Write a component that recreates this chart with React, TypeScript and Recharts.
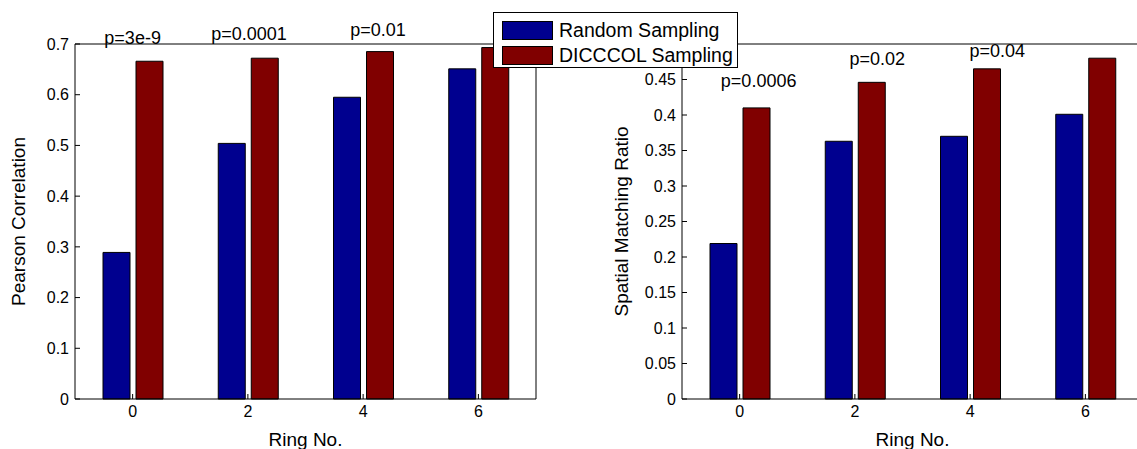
import { BarChart, Bar, XAxis, YAxis, ReferenceDot, Legend } from "recharts";

const rings = [0, 2, 4, 6];
const seriesNames = ["Random Sampling", "DICCCOL Sampling"];
const pearsonRandom = [0.289, 0.504, 0.595, 0.651];
const pearsonDicccol = [0.666, 0.672, 0.685, 0.693];
const matchRandom = [0.219, 0.363, 0.37, 0.401];
const matchDicccol = [0.41, 0.446, 0.465, 0.48];

const pearsonTicks = [0, 0.1, 0.2, 0.3, 0.4, 0.5, 0.6, 0.7];
const matchTicks = [0, 0.05, 0.1, 0.15, 0.2, 0.25, 0.3, 0.35, 0.4, 0.45];

// p-value annotations (ring position, value position, text)
const pearsonNoteText = ["p=3e-9", "p=0.0001", "p=0.01"];
const pearsonNoteX = [0, 2.02, 4.26];
const pearsonNoteY = [0.713, 0.72, 0.728];
const matchNoteText = ["p=0.0006", "p=0.02", "p=0.04"];
const matchNoteX = [0.33, 2.39, 4.47];
const matchNoteY = [0.449, 0.479, 0.49];

const pearsonData = rings.map((ring, i) => ({ ring, random: pearsonRandom[i], dicccol: pearsonDicccol[i] }));
const matchData = rings.map((ring, i) => ({ ring, random: matchRandom[i], dicccol: matchDicccol[i] }));

const FONT = '"Liberation Sans", Arial, Helvetica, sans-serif';
const BLUE = "#00008f";
const RED = "#800000";
const fmt = (v: number) => String(+v.toFixed(2));
const tickStyle = { fontSize: 16, fill: "#000", fontFamily: FONT };

function LegendBox({ payload }: any) {
  const items = [...(payload || [])].sort((a: any, b: any) => seriesNames.indexOf(a.value) - seriesNames.indexOf(b.value));
  return (
    <div style={{ background: "#fff", border: "1px solid #000", width: 245, height: 56, padding: "5px 0 0 8px", boxSizing: "border-box", fontFamily: FONT, fontSize: 19.5, color: "#000" }}>
      {items.map((p: any) => (
        <div key={p.value} style={{ display: "flex", alignItems: "center", height: 25 }}>
          <span style={{ display: "inline-block", width: 49, height: 17, background: p.color, border: "1px solid #000", marginRight: 6 }} />
          <span>{p.value}</span>
        </div>
      ))}
    </div>
  );
}

function Panel({ data, ticks, domainMax, ylabel, ylabelDx, yAxisWidth, notesText, notesX, notesY, width, right, legend }: any) {
  return (
    <BarChart width={width} height={449} data={data} margin={{ top: 43, right, left: 0, bottom: 0 }} barSize={27} barGap={6}>
      <XAxis
        xAxisId="b" dataKey="ring" type="number" domain={[-1, 7]} ticks={rings} height={50}
        tick={tickStyle} tickSize={-5} tickMargin={12} stroke="#000"
        label={{ value: "Ring No.", position: "center", dy: 15, fontSize: 19, fill: "#000", fontFamily: FONT }}
      />
      <XAxis xAxisId="t" orientation="top" dataKey="ring" type="number" domain={[-1, 7]} ticks={rings} height={1} tick={false} tickSize={-5} stroke="#000" />
      <YAxis
        yAxisId="l" domain={[0, domainMax]} ticks={ticks} width={yAxisWidth} tickFormatter={fmt}
        tick={tickStyle} tickSize={-5} tickMargin={11} stroke="#000"
        label={{ value: ylabel, angle: -90, position: "center", dx: ylabelDx, fontSize: 19, fill: "#000", fontFamily: FONT }}
      />
      <YAxis yAxisId="r" orientation="right" domain={[0, domainMax]} ticks={ticks} width={1} tick={false} tickSize={-5} stroke="#000" />
      <Bar xAxisId="b" yAxisId="l" dataKey="random" name={seriesNames[0]} fill={BLUE} stroke="#000" strokeWidth={1} isAnimationActive={false} />
      <Bar xAxisId="b" yAxisId="l" dataKey="dicccol" name={seriesNames[1]} fill={RED} stroke="#000" strokeWidth={1} isAnimationActive={false} />
      {notesText.map((t: string, i: number) => (
        <ReferenceDot
          key={t} xAxisId="b" yAxisId="l" x={notesX[i]} y={notesY[i]} r={0} ifOverflow="visible"
          label={{ value: t, position: "center", fontSize: 18, fill: "#000", fontFamily: FONT }}
        />
      ))}
      {legend && (
        <Legend
          layout="vertical" align="center" verticalAlign="middle"
          wrapperStyle={{ top: 12, left: -67, width: 245, height: 56 }}
          content={<LegendBox />}
        />
      )}
    </BarChart>
  );
}

export default function App() {
  return (
    <div style={{ position: "absolute", left: 0, top: 0, width: 1137, height: 449, overflow: "hidden", background: "#fff" }}>
      <div style={{ position: "absolute", left: 0, top: 0 }}>
        <Panel
          data={pearsonData} ticks={pearsonTicks} domainMax={0.7} ylabel="Pearson Correlation" ylabelDx={-19}
          yAxisWidth={75} notesText={pearsonNoteText} notesX={pearsonNoteX} notesY={pearsonNoteY} width={560} right={23}
        />
      </div>
      <div style={{ position: "absolute", left: 560, top: 0 }}>
        <Panel
          data={matchData} ticks={matchTicks} domainMax={0.5} ylabel="Spatial Matching Ratio" ylabelDx={0}
          yAxisWidth={122} notesText={matchNoteText} notesX={matchNoteX} notesY={matchNoteY} width={600} right={16} legend
        />
      </div>
    </div>
  );
}
